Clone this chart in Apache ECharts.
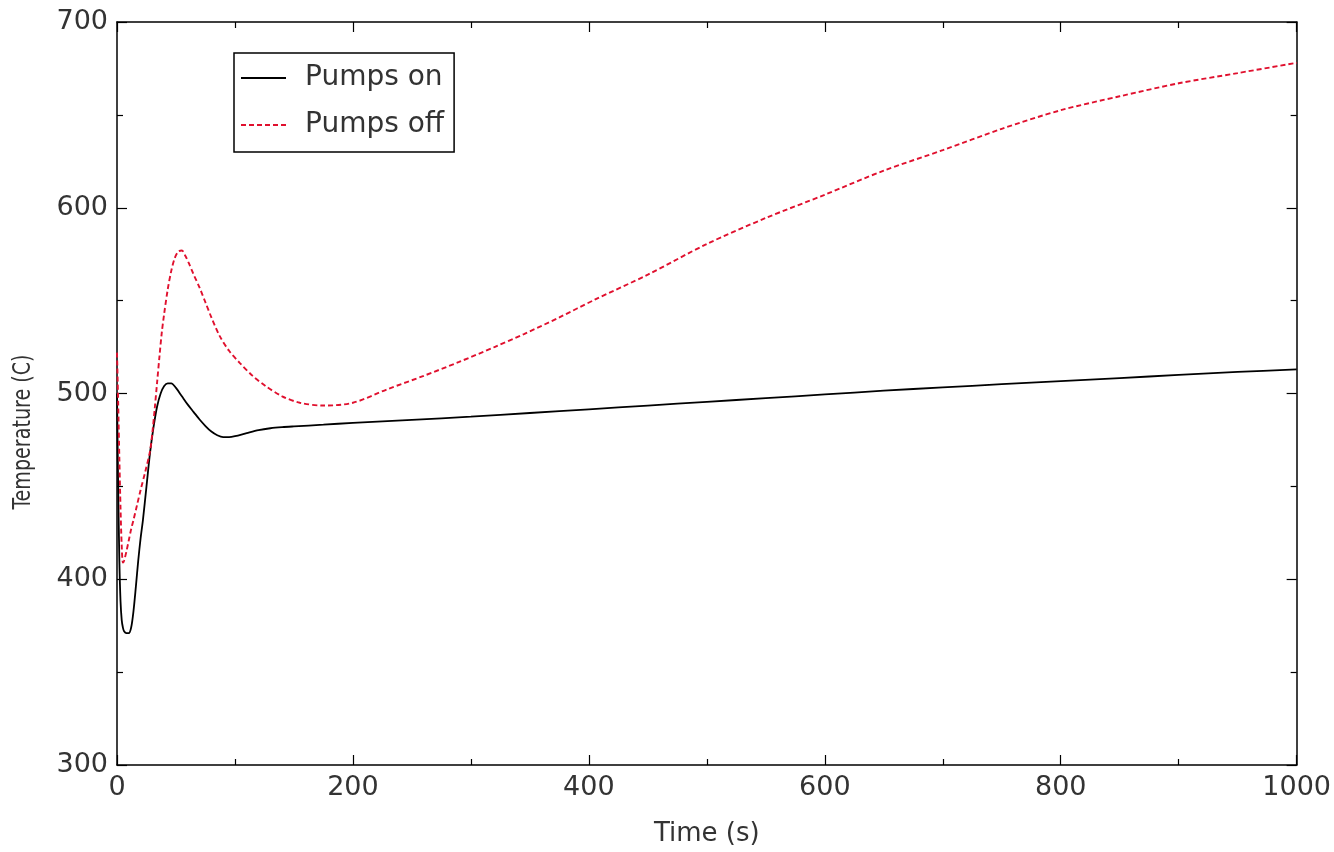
<!DOCTYPE html>
<html>
<head>
<meta charset="utf-8">
<script src="https://cdn.jsdelivr.net/npm/echarts@6/dist/echarts.min.js"></script>
<style>
html,body{margin:0;padding:0;background:#fff;}
#chart{width:1334px;height:852px;}
</style>
</head>
<body>
<div id="chart"></div>
<script>
// ---- data ----
const seriesNames = ['Pumps on', 'Pumps off'];
const xTicks = [0, 200, 400, 600, 800, 1000];
const yTicks = [300, 400, 500, 600, 700];

const onTime = [0, 1, 2, 3, 4, 5, 6, 8, 10, 12, 14, 16, 18, 20, 22, 25, 28, 31, 34, 37, 40, 43, 46, 50, 55, 60, 65, 70, 75, 80, 85, 90, 95, 100, 110, 120, 130, 140, 150, 175, 200, 250, 300, 350, 400, 450, 500, 550, 600, 650, 700, 750, 800, 850, 900, 950, 1000];
const onTemp = [500, 450, 410, 388, 378, 374, 372, 371, 371, 374, 383, 396, 410, 422, 432, 450, 468, 482, 493, 500, 504, 505.5, 505.5, 503, 498.5, 494, 490, 486, 482.5, 479.5, 477.5, 476.5, 476.5, 477, 478.7, 480.3, 481.3, 481.9, 482.3, 483.2, 484.2, 485.8, 487.5, 489.5, 491.5, 493.5, 495.5, 497.5, 499.5, 501.5, 503.3, 505, 506.7, 508.3, 510, 511.6, 513];

const offTime = [0, 1, 2, 3, 4, 5, 6, 8, 10, 12, 14, 17, 20, 24, 28, 30, 32, 34, 36, 38, 40, 43, 46, 49, 52, 55, 58, 61, 65, 70, 75, 80, 87, 95, 104, 115, 126, 140, 155, 175, 200, 230, 260, 290, 320, 345, 375, 405, 450, 500, 550, 600, 650, 700, 750, 800, 850, 900, 950, 1000];
const offTemp = [522, 495, 465, 438, 418, 409, 410, 415, 421, 427, 432, 440, 448, 458, 469, 479, 492, 506, 520, 533, 543, 556, 566, 573, 576.5, 577, 574, 570, 564, 557, 549, 541, 531, 523, 516.5, 509.5, 504, 498.5, 495, 493.5, 495, 502.5, 509.5, 517, 525, 532, 541, 550.5, 564, 580.5, 594.5, 607, 620, 631, 642.5, 652.5, 660, 667, 672.5, 678];

const xTitle = 'Time (s)';
const yTitle = 'Temperature (C)';

// ---- chart ----
const pairs = (xs, ys) => xs.map((x, i) => [x, ys[i]]);
const textColor = '#333';
const font = "'DejaVu Sans', Verdana, sans-serif";

function makeAxis(kind, position, showLabel, extra) {
  const isX = kind === 'x';
  const ticks = isX ? xTicks : yTicks;
  return Object.assign({
    type: 'value',
    position: position,
    min: ticks[0],
    max: ticks[ticks.length - 1],
    interval: ticks[1] - ticks[0],
    axisLine: { show: true, onZero: false, lineStyle: { color: '#000', width: 1.5 } },
    axisTick: { show: true, inside: true, length: 10, lineStyle: { color: '#000', width: 1.2 } },
    minorTick: { show: true, splitNumber: 2, length: 6, lineStyle: { color: '#000', width: 1.2 } },
    splitLine: { show: false },
    minorSplitLine: { show: false },
    axisLabel: {
      show: showLabel,
      color: textColor,
      fontSize: 27,
      fontFamily: font,
      margin: isX ? 9 : 9,
      formatter: (v) => String(v)
    }
  }, extra || {});
}

const chart = echarts.init(document.getElementById('chart'), null, { renderer: 'canvas' });
chart.setOption({
  backgroundColor: '#fff',
  animation: false,
  grid: { left: 117, right: 34, top: 22, bottom: 86 },
  xAxis: [
    makeAxis('x', 'bottom', true, {
      name: xTitle,
      nameLocation: 'middle',
      nameGap: 56,
      nameTextStyle: { color: textColor, fontSize: 26, fontFamily: font }
    }),
    makeAxis('x', 'top', false)
  ],
  yAxis: [
    makeAxis('y', 'left', true),
    makeAxis('y', 'right', false)
  ],
  legend: {
    data: seriesNames,
    orient: 'vertical',
    left: 234,
    top: 53,
    borderColor: '#000',
    borderWidth: 1.5,
    borderRadius: 0,
    padding: [10, 10, 12, 6],
    itemWidth: 45,
    itemHeight: 14,
    itemGap: 17,
    itemStyle: { opacity: 0 },
    textStyle: { color: textColor, fontSize: 28, fontFamily: font, lineHeight: 30, padding: [0, 0, 0, 14] }
  },
  graphic: [{
    type: 'text',
    x: 23,
    y: 432,
    rotation: Math.PI / 2,
    scaleX: 0.85,
    style: {
      text: yTitle,
      fill: textColor,
      fontSize: 25,
      fontFamily: "'DejaVu Sans Condensed', 'DejaVu Sans', sans-serif",
      align: 'center',
      verticalAlign: 'middle'
    }
  }],
  series: [
    {
      name: seriesNames[0],
      type: 'line',
      xAxisIndex: 0,
      yAxisIndex: 0,
      data: pairs(onTime, onTemp),
      symbol: 'none',
      smooth: 0.3,
      lineStyle: { color: '#000', width: 1.8 },
      itemStyle: { color: '#000' }
    },
    {
      name: seriesNames[1],
      type: 'line',
      xAxisIndex: 0,
      yAxisIndex: 0,
      data: pairs(offTime, offTemp),
      symbol: 'none',
      smooth: 0.3,
      lineStyle: { color: '#e0102e', width: 1.9, type: [5, 3] },
      itemStyle: { color: '#e0102e' }
    }
  ]
});
</script>
</body>
</html>
